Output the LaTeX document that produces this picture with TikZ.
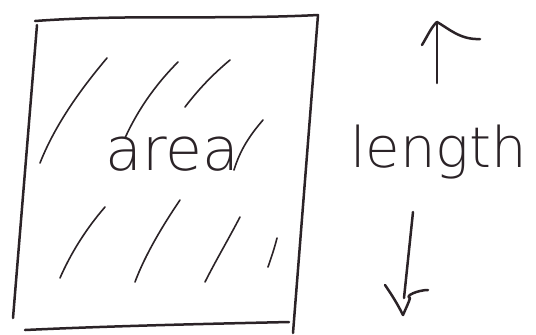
\documentclass[tikz,border=0pt]{standalone}
\usepackage{fontspec}
\newfontfamily\hand{DejaVu Sans ExtraLight}
\definecolor{ink}{HTML}{2B2327}
\begin{document}
\begin{tikzpicture}[x=0.5pt,y=-0.5pt, line cap=round, line join=round,
  pen/.style={draw=ink, line width=1.25pt},
  hatch/.style={draw=ink, line width=0.8pt},
  lbl/.style={text=ink, inner sep=0pt, anchor=base west}]
\useasboundingbox (0,0) rectangle (536,334);
\fill[white] (0,0) rectangle (536,334);
% sketched square
\coordinate (tl) at (35,21);
\coordinate (tr) at (318,15);
\coordinate (br) at (293,333);
\coordinate (bl) at (13,318);
\coordinate (bs) at (25,330);
\coordinate (be) at (289,322);
\draw[pen] (tl) .. controls (130,14) and (220,20) .. (tr);
\draw[pen] (tr) -- (br);
\draw[pen] (37,25) -- (bl);
\draw[pen] (bs) .. controls (110,326) and (200,324) .. (be);
% hatching
\draw[hatch] (107,58) .. controls (80,90) and (55,125) .. (40,163);
\draw[hatch] (178,62) .. controls (160,80) and (140,105) .. (125,138);
\draw[hatch] (230,60) .. controls (212,75) and (198,90) .. (185,107);
\draw[hatch] (263,120) .. controls (250,135) and (240,150) .. (234,170);
\draw[hatch] (105,207) .. controls (85,230) and (70,255) .. (60,278);
\draw[hatch] (180,200) .. controls (163,225) and (145,255) .. (135,282);
\draw[hatch] (240,217) .. controls (228,240) and (215,262) .. (205,282);
\draw[hatch] (277,238) .. controls (274,250) and (271,258) .. (268,267);
% labels
\node[lbl, font=\hand\fontsize{30}{30}\selectfont] (area) at (105,170) {area};
\node[lbl, font=\hand\fontsize{28}{28}\selectfont] (len) at (350,167) {length};
% up arrow
\coordinate (upS) at (437,83);
\coordinate (upT) at (437,22);
\draw[pen] (upS) -- (upT);
\draw[pen] (422,45) .. controls (428,35) and (432,26) .. (upT)
  .. controls (448,28) and (460,40) .. (480,39);
% down arrow
\coordinate (dnS) at (413,212);
\coordinate (dnT) at (404,298);
\draw[pen] (dnS) -- (dnT);
\draw[pen] (385,285) .. controls (392,295) and (398,305) .. (403,315)
  .. controls (406,308) and (409,302) .. (410,298)
  .. controls (404,296) and (418,290) .. (428,290);
\end{tikzpicture}
\end{document}
